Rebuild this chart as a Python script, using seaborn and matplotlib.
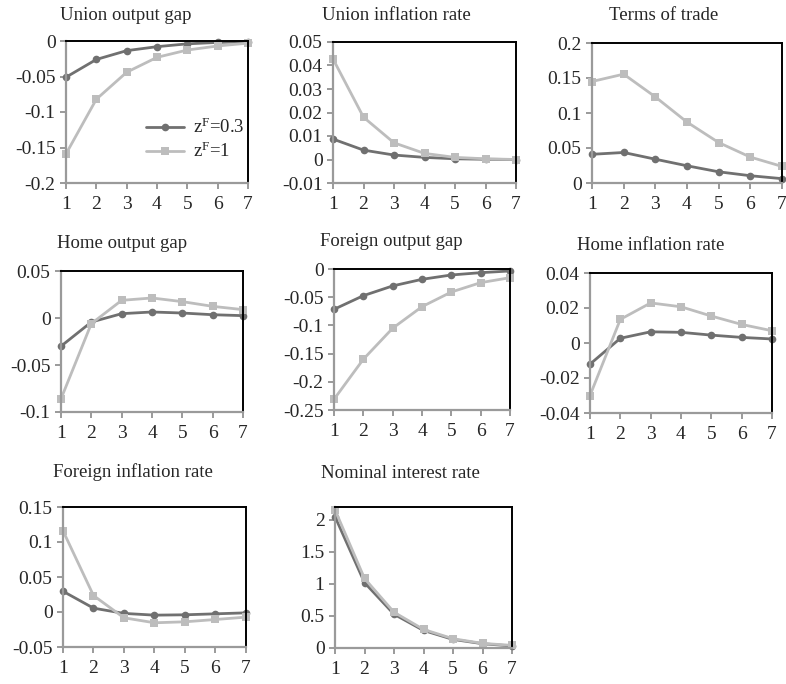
import numpy as np
import pandas as pd
import seaborn as sns
import matplotlib
matplotlib.use("Agg")
import matplotlib.pyplot as plt

periods = [1, 2, 3, 4, 5, 6, 7]
series_names = ["$\\mathregular{z^F}$=0.3", "$\\mathregular{z^F}$=1"]

titles = ["Union output gap", "Union inflation rate", "Terms of trade",
          "Home output gap", "Foreign output gap", "Home inflation rate",
          "Foreign inflation rate", "Nominal interest rate"]

union_gap_03 = [-0.051, -0.026, -0.0136, -0.008, -0.004, -0.002, -0.001]
union_gap_1 = [-0.159, -0.082, -0.044, -0.023, -0.0127, -0.007, -0.003]
union_inf_03 = [0.0087, 0.004, 0.0019, 0.0009, 0.0003, 0.0001, 0.0]
union_inf_1 = [0.0428, 0.018, 0.0071, 0.0026, 0.0009, 0.0003, 0.0]
tot_03 = [0.041, 0.0436, 0.034, 0.0246, 0.016, 0.0104, 0.0062]
tot_1 = [0.145, 0.1555, 0.123, 0.087, 0.0578, 0.037, 0.0237]
home_gap_03 = [-0.030, -0.0043, 0.0046, 0.0064, 0.0053, 0.0035, 0.0025]
home_gap_1 = [-0.086, -0.006, 0.0188, 0.0213, 0.0174, 0.0124, 0.0089]
for_gap_03 = [-0.0715, -0.0473, -0.030, -0.0183, -0.0106, -0.0065, -0.0035]
for_gap_1 = [-0.231, -0.160, -0.105, -0.0668, -0.0408, -0.0242, -0.0154]
home_inf_03 = [-0.0121, 0.0027, 0.0064, 0.0061, 0.0045, 0.0032, 0.0023]
home_inf_1 = [-0.030, 0.0135, 0.0229, 0.0207, 0.0154, 0.0106, 0.007]
for_inf_03 = [0.0296, 0.0055, -0.002, -0.0045, -0.004, -0.0026, -0.0012]
for_inf_1 = [0.116, 0.0235, -0.0083, -0.0154, -0.014, -0.0107, -0.0073]
nom_rate_03 = [2.05, 1.02, 0.527, 0.274, 0.134, 0.067, 0.031]
nom_rate_1 = [2.155, 1.085, 0.558, 0.29, 0.145, 0.072, 0.041]

panel_data = [(union_gap_03, union_gap_1), (union_inf_03, union_inf_1), (tot_03, tot_1),
              (home_gap_03, home_gap_1), (for_gap_03, for_gap_1), (home_inf_03, home_inf_1),
              (for_inf_03, for_inf_1), (nom_rate_03, nom_rate_1)]

y_limits = [(-0.2, 0), (-0.01, 0.05), (0, 0.2), (-0.1, 0.05), (-0.25, 0),
            (-0.04, 0.04), (-0.05, 0.15), (0, 2.2)]
y_ticks = [[-0.2, -0.15, -0.1, -0.05, 0],
           [-0.01, 0, 0.01, 0.02, 0.03, 0.04, 0.05],
           [0, 0.05, 0.1, 0.15, 0.2],
           [-0.1, -0.05, 0, 0.05],
           [-0.25, -0.2, -0.15, -0.1, -0.05, 0],
           [-0.04, -0.02, 0, 0.02, 0.04],
           [-0.05, 0, 0.05, 0.1, 0.15],
           [0, 0.5, 1, 1.5, 2]]
y_ticklabels = [["-0.2", "-0.15", "-0.1", "-0.05", "0"],
                ["-0.01", "0", "0.01", "0.02", "0.03", "0.04", "0.05"],
                ["0", "0.05", "0.1", "0.15", "0.2"],
                ["-0.1", "-0.05", "0", "0.05"],
                ["-0.25", "-0.2", "-0.15", "-0.1", "-0.05", "0"],
                ["-0.04", "-0.02", "0", "0.02", "0.04"],
                ["-0.05", "0", "0.05", "0.1", "0.15"],
                ["0", "0.5", "1", "1.5", "2"]]

sns.set_theme(style="white")
plt.rcParams["font.family"] = ["Liberation Serif", "DejaVu Serif"]
plt.rcParams["mathtext.default"] = "regular"

W, H = 786, 684
fig = plt.figure(figsize=(W / 100, H / 100), dpi=100)

# axes boxes in pixels: left, right, top, bottom
boxes = [(66, 248, 41, 183), (333, 516, 42, 183), (592, 782, 43, 183),
         (61, 243, 271, 412), (334, 510, 269, 410), (590, 772, 273, 413),
         (63, 246, 507, 647), (335, 512, 507, 648)]
title_pos = [(60, 15), (322, 15), (609, 15), (57, 243), (320, 241), (577, 245),
             (53, 472), (321, 473)]

dark = "#707070"
light = "#bdbdbd"
spine_gray = "#9a9a9a"

for i, (l, r, t, b) in enumerate(boxes):
    ax = fig.add_axes([l / W, 1 - b / H, (r - l) / W, (b - t) / H])
    a03, a1 = panel_data[i]
    df = pd.DataFrame({
        "period": periods * 2,
        "value": list(a03) + list(a1),
        "series": [series_names[0]] * 7 + [series_names[1]] * 7,
    })
    sns.lineplot(data=df, x="period", y="value", hue="series", style="series",
                 palette={series_names[0]: dark, series_names[1]: light},
                 markers={series_names[0]: "o", series_names[1]: "s"},
                 dashes=False, linewidth=2.0, markersize=5.5,
                 markeredgewidth=0, ax=ax, legend=(i == 0))
    # draw the second series on top like the reference
    for ln in ax.lines:
        ln.set_clip_on(False)
    ax.set_xlim(1, 7)
    ax.set_ylim(*y_limits[i])
    ax.set_xticks(periods)
    ax.set_xticklabels([str(p) for p in periods])
    ax.set_yticks(y_ticks[i])
    ax.set_yticklabels(y_ticklabels[i])
    ax.set_xlabel("")
    ax.set_ylabel("")
    for side in ["left", "bottom"]:
        ax.spines[side].set_color(spine_gray)
        ax.spines[side].set_linewidth(1.6)
    for side in ["top", "right"]:
        ax.spines[side].set_color("black")
        ax.spines[side].set_linewidth(1.4)
    ax.tick_params(axis="both", which="major", direction="out", length=4.5,
                   width=1.4, color=spine_gray, labelsize=14, pad=3,
                   left=True, bottom=True)
    ax.tick_params(axis="x", pad=5)
    ax.grid(False)
    tx, ty = title_pos[i]
    fig.text(tx / W, 1 - ty / H, titles[i], fontsize=13.5, ha="left", va="center")
    if i == 0:
        handles, labels = ax.get_legend_handles_labels()
        ax.legend(handles, labels, loc="upper left",
                  bbox_to_anchor=(146 / W, 1 - 118 / H), bbox_transform=fig.transFigure,
                  frameon=False, fontsize=13.5, handlelength=2.0, handletextpad=0.5,
                  labelspacing=0.25, borderpad=0, borderaxespad=0)

fig.savefig("out.png", dpi=100)
